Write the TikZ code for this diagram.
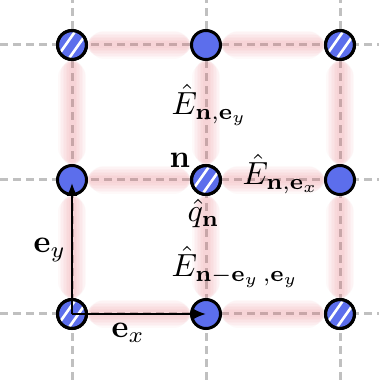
\documentclass[tikz,border=0pt]{standalone}
\usetikzlibrary{arrows.meta,calc}
\definecolor{nodeblue}{RGB}{92,110,236}
\definecolor{gridgray}{RGB}{192,192,192}
\definecolor{glowpink}{RGB}{235,100,110}
\tikzset{
  gridline/.style={gridgray, line width=3pt, dash pattern=on 8pt off 5pt},
  site/.style={circle, draw=black, line width=3pt, fill=nodeblue, minimum size=29pt, inner sep=0pt},
  vec/.style={black, line width=2pt, -{Latex[length=13pt,width=11pt]}},
  lbl/.style={anchor=base west, inner sep=0pt, scale=3.2},
}
\newcommand{\glowedge}[2]{%
  \foreach \w/\s in {28/32, 25/29, 22/27, 19/25, 16/23, 13/22, 10/21, 7/20}{%
    \draw[glowpink, opacity=0.035, line width=\w pt, line cap=round, shorten <=\s pt, shorten >=\s pt] (#1) -- (#2);
  }%
}
\newcommand{\hatchsite}[1]{%
  \begin{scope}
    \clip (#1) circle (13pt);
    \foreach \o in {-4.5,4.5}{
      \draw[white, line width=2.6pt] ($(#1)+(\o pt,-\o*0.6 pt)+(-12pt,-17pt)$) -- ($(#1)+(\o pt,-\o*0.6 pt)+(12pt,17pt)$);
    }
  \end{scope}
  \draw[black, line width=3pt] (#1) circle (14.5pt);
}
\begin{document}
\begin{tikzpicture}[x=1pt,y=1pt]
\useasboundingbox (0,0) rectangle (379,380);
\fill[white] (0,0) rectangle (379,380);
% grid
\foreach \x in {72,206,340}{\draw[gridline] (\x,0) -- (\x,380);}
\foreach \y in {335,200,66}{\draw[gridline] (0,\y) -- (379,\y);}
% coordinates of sites
\coordinate (p00) at (72,66);
\coordinate (p10) at (206,66);
\coordinate (p20) at (340,66);
\coordinate (p01) at (72,200);
\coordinate (p11) at (206,200);
\coordinate (p21) at (340,200);
\coordinate (p02) at (72,335);
\coordinate (p12) at (206,335);
\coordinate (p22) at (340,335);
% glow
\glowedge{p00}{p10}\glowedge{p10}{p20}
\glowedge{p01}{p11}\glowedge{p11}{p21}
\glowedge{p02}{p12}\glowedge{p12}{p22}
\glowedge{p00}{p01}\glowedge{p01}{p02}
\glowedge{p10}{p11}\glowedge{p11}{p12}
\glowedge{p20}{p21}\glowedge{p21}{p22}
% sites
\foreach \p in {p00,p10,p20,p01,p11,p21,p02,p12,p22}{
  \node[site] (n\p) at (\p) {};
}
\foreach \p in {p00,p20,p11,p02,p22}{\hatchsite{\p}}
% vectors
\draw[vec] (p00) -- (p10);
\draw[vec] (p00) -- ($(p01)+(0,-3)$);
% labels
\node[lbl] (Ey) at (171,265) {$\hat{E}_{\mathbf{n},\mathbf{e}_y}$};
\node[lbl] (nl) at (169,212) {$\mathbf{n}$};
\node[lbl] (Ex) at (242,195) {$\hat{E}_{\mathbf{n},\mathbf{e}_x}$};
\node[lbl] (qn) at (187,158) {$\hat{q}_{\mathbf{n}}$};
\node[lbl] (Eyd) at (171,103) {$\hat{E}_{\mathbf{n}-\mathbf{e}_y\,,\mathbf{e}_y}$};
\node[lbl] (ey) at (33,127) {$\mathbf{e}_y$};
\node[lbl] (ex) at (111,42) {$\mathbf{e}_x$};
\end{tikzpicture}
\end{document}
